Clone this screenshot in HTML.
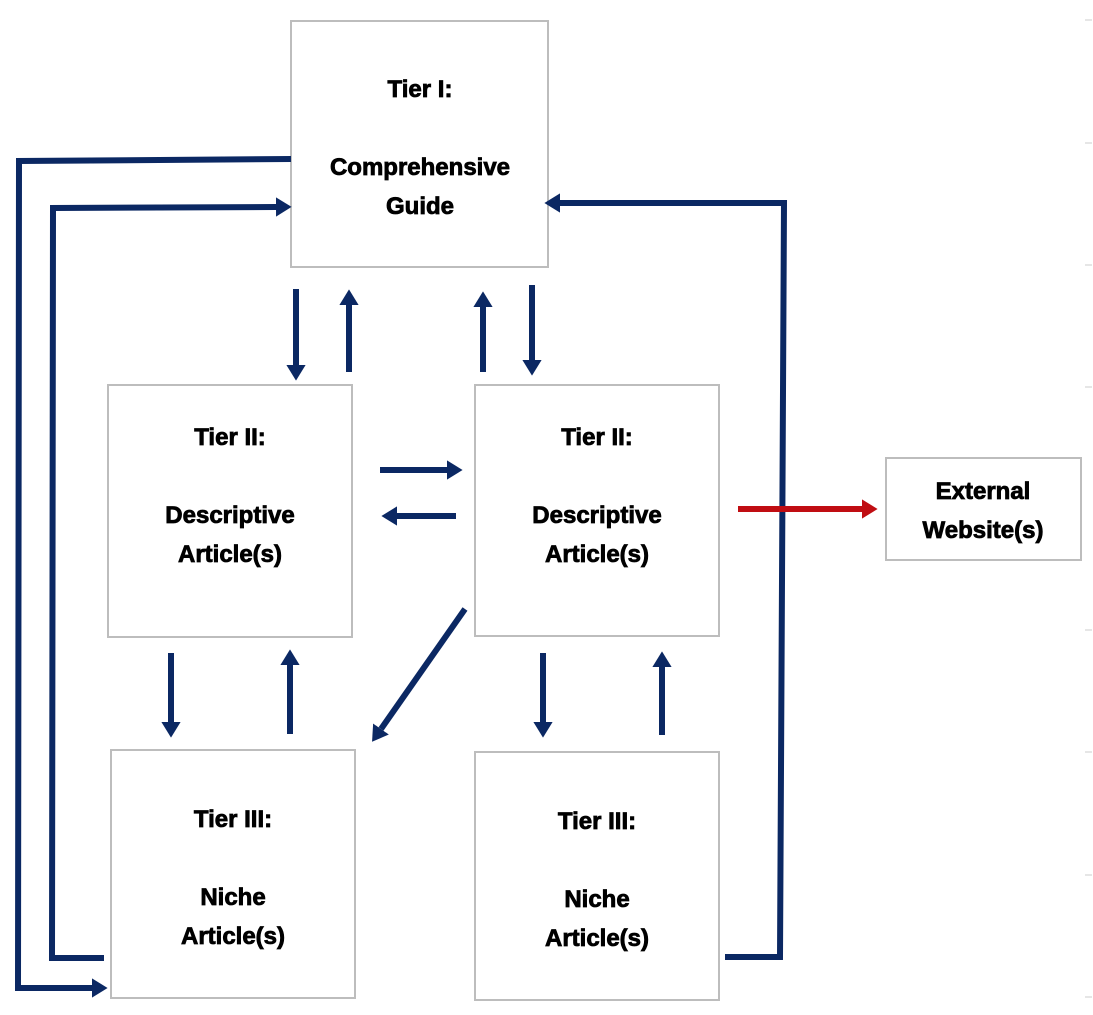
<!DOCTYPE html>
<html><head><meta charset="utf-8"><style>
html,body{margin:0;padding:0;background:#fff}
svg{display:block}
text{font-family:"Liberation Sans",Arial,sans-serif;font-weight:bold;font-size:24px;fill:#000;stroke:#000;stroke-width:0.8;text-anchor:middle}
</style></head><body>
<svg width="1093" height="1015" viewBox="0 0 1093 1015" xmlns="http://www.w3.org/2000/svg">
<defs>
<marker id="a" markerWidth="4" markerHeight="4" refX="0" refY="2" orient="auto" markerUnits="strokeWidth"><path d="M0,0.4 L2.6,2 L0,3.6Z" fill="#0b2863"/></marker>
<marker id="r" markerWidth="4" markerHeight="4" refX="0" refY="2" orient="auto" markerUnits="strokeWidth"><path d="M0,0.4 L2.6,2 L0,3.6Z" fill="#c00d12"/></marker>
</defs>
<g fill="#fff" stroke="#bdbdbd" stroke-width="2">
<rect x="291" y="21" width="257" height="246"/>
<rect x="108" y="385" width="244" height="252"/>
<rect x="475" y="385" width="244" height="251"/>
<rect x="111" y="750" width="244" height="248"/>
<rect x="475" y="752" width="244" height="248"/>
<rect x="886" y="458" width="195" height="102"/>
</g>
<g stroke="#ccc" stroke-width="1">
<line x1="1085" y1="20" x2="1092" y2="20"/><line x1="1085" y1="143" x2="1092" y2="143"/><line x1="1085" y1="265" x2="1092" y2="265"/><line x1="1085" y1="387" x2="1092" y2="387"/><line x1="1085" y1="630" x2="1092" y2="630"/><line x1="1085" y1="752" x2="1092" y2="752"/><line x1="1085" y1="875" x2="1092" y2="875"/><line x1="1085" y1="997" x2="1092" y2="997"/>
</g>
<g stroke="#0b2863" stroke-width="6" fill="none">
<polyline points="291,159 19,161 18,988 92,988" marker-end="url(#a)"/>
<polyline points="104,958 52,958 53,208 276,207" marker-end="url(#a)"/>
<polyline points="725,957 780,957 784,203 560,203" marker-end="url(#a)"/>
<line x1="296" y1="289" x2="296" y2="365" marker-end="url(#a)"/>
<line x1="349" y1="372" x2="349" y2="305" marker-end="url(#a)"/>
<line x1="483" y1="372" x2="483" y2="307" marker-end="url(#a)"/>
<line x1="532" y1="285" x2="532" y2="360" marker-end="url(#a)"/>
<line x1="380" y1="470" x2="447" y2="470" marker-end="url(#a)"/>
<line x1="456" y1="516" x2="397" y2="516" marker-end="url(#a)"/>
<line x1="465" y1="609" x2="381" y2="729" marker-end="url(#a)"/>
<line x1="171" y1="653" x2="171" y2="722" marker-end="url(#a)"/>
<line x1="290" y1="734" x2="290" y2="665" marker-end="url(#a)"/>
<line x1="543" y1="653" x2="543" y2="722" marker-end="url(#a)"/>
<line x1="662" y1="735" x2="662" y2="667" marker-end="url(#a)"/>
</g>
<line x1="738" y1="509" x2="862" y2="509" stroke="#c00d12" stroke-width="6" marker-end="url(#r)"/>
<text x="420" y="97">Tier I:</text>
<text x="420" y="175">Comprehensive</text>
<text x="420" y="214">Guide</text>
<text x="230" y="445">Tier II:</text>
<text x="230" y="523">Descriptive</text>
<text x="230" y="562">Article(s)</text>
<text x="597" y="445">Tier II:</text>
<text x="597" y="523">Descriptive</text>
<text x="597" y="562">Article(s)</text>
<text x="233" y="827">Tier III:</text>
<text x="233" y="905">Niche</text>
<text x="233" y="944">Article(s)</text>
<text x="597" y="829">Tier III:</text>
<text x="597" y="907">Niche</text>
<text x="597" y="946">Article(s)</text>
<text x="983" y="499">External</text>
<text x="983" y="538">Website(s)</text>
</svg>
</body></html>
